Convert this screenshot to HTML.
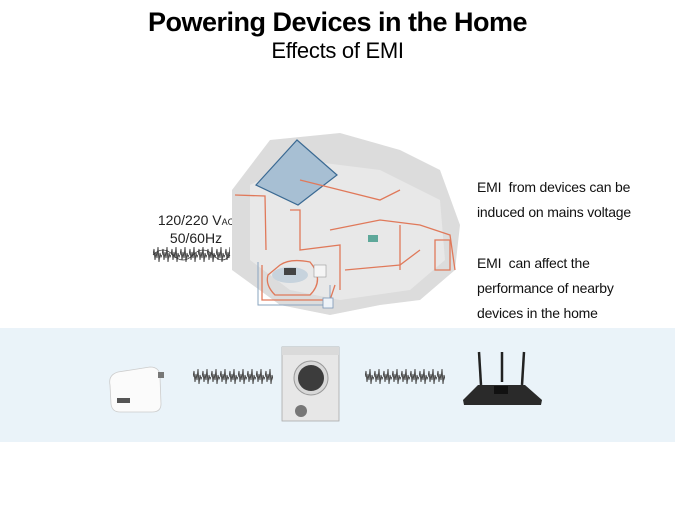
<!DOCTYPE html>
<html><head><meta charset="utf-8"><style>
body{margin:0;width:675px;height:506px;background:#fff;position:relative;overflow:hidden;font-family:"Liberation Sans",Arial,sans-serif;}
.a{position:absolute;white-space:nowrap;}
.t{left:0;width:675px;text-align:center;}
.r{left:477px;font-size:14px;color:#111;letter-spacing:-0.2px;}
</style></head><body>
<div class="a t" style="top:7px;font-size:27px;font-weight:bold;letter-spacing:-0.5px;">Powering Devices in the Home</div>
<div class="a t" style="top:38px;font-size:22px;letter-spacing:-0.3px;">Effects of EMI</div>
<div style="position:absolute;left:0;top:328px;width:675px;height:114px;background:#eaf3f9;"></div>
<div class="a r" style="top:179px">EMI&nbsp; from devices can be</div>
<div class="a r" style="top:204px">induced on mains voltage</div>
<div class="a r" style="top:255px">EMI&nbsp; can affect the</div>
<div class="a r" style="top:280px">performance of nearby</div>
<div class="a r" style="top:305px">devices in the home</div>
<div class="a" style="left:146px;top:212px;width:100px;text-align:center;font-size:14px;line-height:16px;color:#222;">120/220 V<span style="font-size:9px">AC</span><br>50/60Hz</div>
<svg class="a" style="left:0;top:0" width="675" height="506">
<defs>
<pattern id="n" x="0" y="0" width="9" height="18" patternUnits="userSpaceOnUse">
<path d="M0 9 L1 3 L2 14 L3 6 L4 12 L5 1 L6 16 L7 7 L8 11 L9 9" stroke="#4a4a4a" fill="none" stroke-width="1"/>
</pattern>
</defs>
<g>
<polygon points="232,190 270,140 340,133 400,150 440,170 460,225 455,270 420,300 380,305 330,315 280,305 232,270" fill="#dcdcdc"/>
<polygon points="250,185 300,160 380,170 440,200 445,260 410,290 340,300 290,290 250,260" fill="#e8e8e8"/>
<polygon points="256,185 297,140 337,175 298,205" fill="#a7bfd3" stroke="#3b6a93" stroke-width="1.2"/>
<g stroke="#e0795a" stroke-width="1.3" fill="none">
<path d="M235,195 L265,196 L266,250"/>
<path d="M262,265 L262,300 L330,300 L335,285"/>
<path d="M290,210 L300,210 L300,250 L340,245 L340,290"/>
<path d="M330,230 L380,220 L420,225 L450,235 L455,270"/>
<path d="M345,270 L400,265 L420,250"/>
<path d="M300,180 L340,190 L380,200 L400,190"/>
<path d="M400,225 L400,270"/>
<path d="M280,265 Q290,258 310,262 Q325,280 310,295 L275,295 Q265,285 268,275 Z"/>
<path d="M435,240 L450,240 L450,270 L435,270 Z"/>
</g>
<path d="M258,262 L258,305 L330,305 L330,285" stroke="#8aa4bf" stroke-width="1" fill="none"/>
<ellipse cx="290" cy="275" rx="18" ry="8" fill="#c7d3dd"/>
<rect x="284" y="268" width="12" height="7" fill="#444"/>
<rect x="314" y="265" width="12" height="12" fill="#f5f5f5" stroke="#999" stroke-width="0.6"/>
<rect x="323" y="298" width="10" height="10" fill="#eef3f8" stroke="#7c97b6" stroke-width="0.8"/>
<rect x="368" y="235" width="10" height="7" fill="#5ea89a"/>
</g>
<g transform="translate(153,246)"><rect width="77" height="18" fill="url(#n)"/>
<path d="M0,9 Q10,-1 20,9 T40,9 T60,9 T77,9" stroke="#333" fill="none" stroke-width="0.8"/></g>
<g transform="translate(193,368)"><rect width="80" height="18" fill="url(#n)"/></g>
<g transform="translate(365,368)"><rect width="80" height="18" fill="url(#n)"/></g>
<g>
<path d="M110,385 Q108,375 118,372 L150,367 Q160,367 160,377 L161,404 Q161,412 152,412 L120,412 Q112,412 111,404 Z" fill="#fbfbfb" stroke="#ccc" stroke-width="0.8"/>
<rect x="158" y="372" width="6" height="6" fill="#777"/>
<rect x="117" y="398" width="13" height="5" fill="#555"/>
</g>
<g>
<rect x="282" y="347" width="57" height="74" fill="#e7e7e7" stroke="#aaa" stroke-width="0.8"/>
<rect x="282" y="347" width="57" height="8" fill="#dadada"/>
<circle cx="311" cy="378" r="17" fill="#d8d8d8" stroke="#999"/>
<circle cx="311" cy="378" r="13" fill="#3c3c3c"/>
<circle cx="301" cy="411" r="6" fill="#777"/>
</g>
<g>
<line x1="479" y1="352" x2="481" y2="385" stroke="#222" stroke-width="2.5"/>
<line x1="502" y1="352" x2="502" y2="382" stroke="#222" stroke-width="2.5"/>
<line x1="524" y1="352" x2="522" y2="385" stroke="#222" stroke-width="2.5"/>
<path d="M463,400 L478,385 L525,385 L542,400 L541,405 L464,405 Z" fill="#2a2a2a"/>
<rect x="494" y="386" width="14" height="8" fill="#111"/>
</g>
</svg>
</body></html>
